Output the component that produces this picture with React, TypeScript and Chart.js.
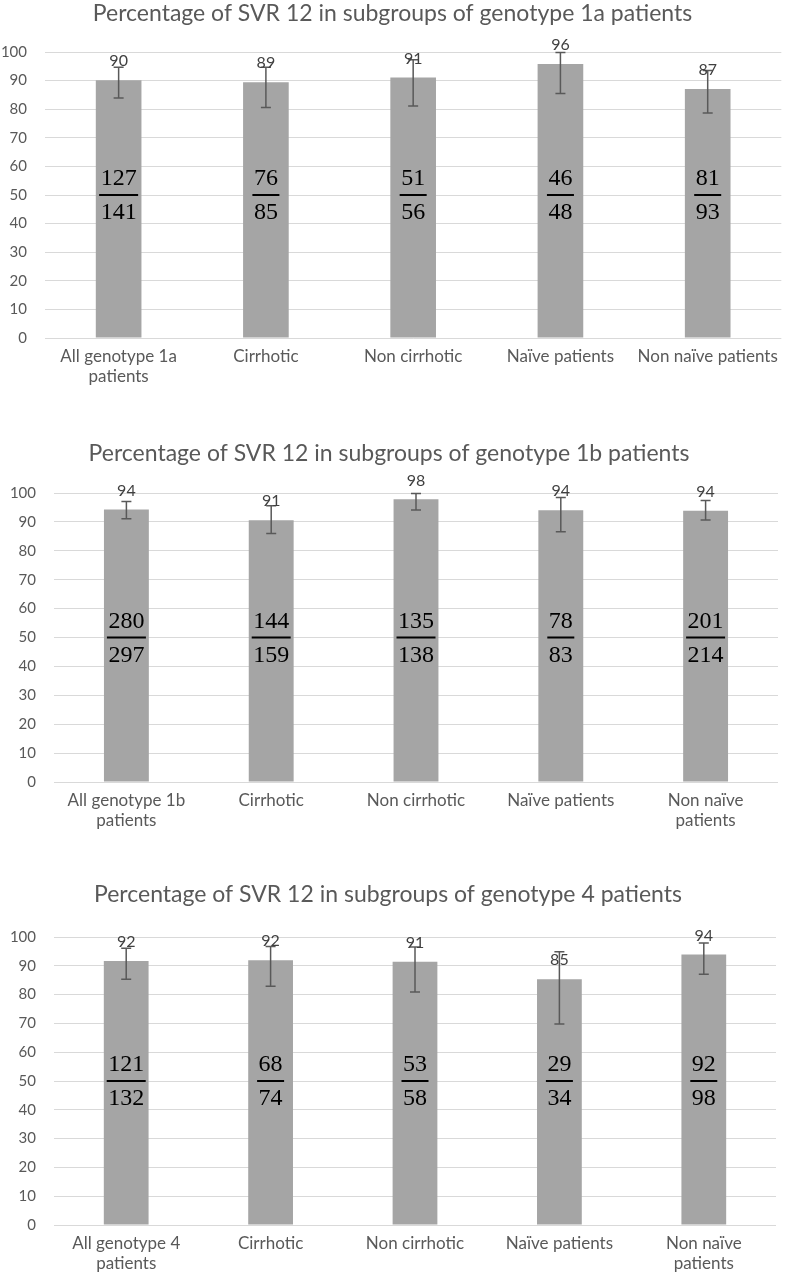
import React, { useEffect, useRef } from "react";
import { Chart, registerables } from "chart.js";

Chart.register(...registerables);

// ---------- DATA ----------
const categories1a: (string | string[])[] = [["All genotype 1a", "patients"], "Cirrhotic", "Non cirrhotic", "Naïve patients", "Non naïve patients"];
const svr1a = [90.1, 89.4, 91.1, 95.8, 87.1];
const lower1a = [83.9, 80.6, 81.1, 85.5, 78.7];
const upper1a = [94.7, 94.7, 97.3, 99.8, 93.5];
const num1a = [127, 76, 51, 46, 81];
const den1a = [141, 85, 56, 48, 93];

const categories1b: (string | string[])[] = [["All genotype 1b", "patients"], "Cirrhotic", "Non cirrhotic", "Naïve patients", ["Non naïve", "patients"]];
const svr1b = [94.3, 90.6, 97.8, 94.0, 93.9];
const lower1b = [91.1, 86.0, 94.1, 86.6, 90.7];
const upper1b = [97.1, 95.6, 99.8, 98.4, 97.4];
const num1b = [280, 144, 135, 78, 201];
const den1b = [297, 159, 138, 83, 214];

const categories4: (string | string[])[] = [["All genotype 4", "patients"], "Cirrhotic", "Non cirrhotic", "Naïve patients", ["Non naïve", "patients"]];
const svr4 = [91.7, 91.9, 91.4, 85.3, 93.9];
const lower4 = [85.3, 82.9, 80.9, 69.8, 87.1];
const upper4 = [96.1, 96.7, 96.5, 94.9, 97.9];
const num4 = [121, 68, 53, 29, 92];
const den4 = [132, 74, 58, 34, 98];

const yTicksMin = 0;
const yTicksMax = 100;
const yTicksStep = 10;
const fractionAt = 50;

// ---------- STYLE ----------
const SANS = "Lato, 'Open Sans', sans-serif";
const SERIF = "'Liberation Serif', 'DejaVu Serif', serif";
const TEXT = "#595959";
const BAR = "#a5a5a5";
const GRID = "#d9d9d9";

type Props = {
  title: string;
  categories: (string | string[])[];
  values: number[];
  lower: number[];
  upper: number[];
  num: number[];
  den: number[];
  height: number;
  yWidth: number;
  padRight: number;
  titleTop: number;
  titleBottom: number;
  padBottom: number;
};

function SvrChart(p: Props) {
  const ref = useRef<HTMLCanvasElement>(null);
  useEffect(() => {
    let chart: Chart | null = null;
    let cancelled = false;
    const make = () => {
      if (cancelled || !ref.current) return;
      const extras = {
        id: "extras",
        afterDatasetsDraw(c: any) {
          const ctx = c.ctx as CanvasRenderingContext2D;
          const meta = c.getDatasetMeta(0);
          const y = c.scales.y;
          ctx.save();
          meta.data.forEach((bar: any, i: number) => {
            const x = bar.x;
            const yl = y.getPixelForValue(p.lower[i]);
            const yh = y.getPixelForValue(p.upper[i]);
            ctx.strokeStyle = "#595959";
            ctx.lineWidth = 1.5;
            ctx.beginPath();
            ctx.moveTo(x, yl);
            ctx.lineTo(x, yh);
            ctx.moveTo(x - 5, yl);
            ctx.lineTo(x + 5, yl);
            ctx.moveTo(x - 5, yh);
            ctx.lineTo(x + 5, yh);
            ctx.stroke();

            const ly = y.getPixelForValue(fractionAt);
            ctx.font = `24px ${SERIF}`;
            ctx.fillStyle = "#000";
            ctx.textAlign = "center";
            ctx.textBaseline = "middle";
            const n = String(p.num[i]);
            const d = String(p.den[i]);
            const w = Math.max(ctx.measureText(n).width, ctx.measureText(d).width) + 3;
            ctx.fillText(n, x, ly - 16);
            ctx.fillText(d, x, ly + 18);
            ctx.fillRect(x - w / 2, ly - 1, w, 2);

            ctx.font = `16px ${SANS}`;
            ctx.fillStyle = "#404040";
            ctx.fillText(String(Math.round(p.values[i])), x, bar.y - 19);
          });
          ctx.restore();
        },
      };
      chart = new Chart(ref.current, {
        type: "bar",
        data: {
          labels: p.categories as any,
          datasets: [
            {
              data: p.values,
              backgroundColor: BAR,
              borderWidth: 0,
              barPercentage: 0.31,
              categoryPercentage: 1,
            },
          ],
        },
        options: {
          animation: false,
          responsive: false,
          maintainAspectRatio: false,
          layout: { padding: { left: 0, right: p.padRight, top: 0, bottom: p.padBottom } },
          plugins: {
            legend: { display: false },
            tooltip: { enabled: false },
            title: {
              display: true,
              text: p.title,
              color: TEXT,
              font: { family: SANS, size: 23, weight: "normal" },
              padding: { top: p.titleTop, bottom: p.titleBottom },
            },
          },
          scales: {
            x: {
              grid: { display: false, drawTicks: false },
              border: { display: false },
              ticks: {
                color: TEXT,
                font: { family: SANS, size: 17, lineHeight: 1.15 },
                padding: 9,
                maxRotation: 0,
                autoSkip: false,
              },
              afterFit: (s: any) => {
                s.height = 50;
              },
            },
            y: {
              min: yTicksMin,
              max: yTicksMax,
              grid: { color: GRID, lineWidth: 1, drawTicks: false },
              border: { display: false },
              ticks: {
                stepSize: yTicksStep,
                color: TEXT,
                font: { family: SANS, size: 15 },
                padding: 18,
              },
              afterFit: (s: any) => {
                s.width = p.yWidth;
              },
            },
          },
        },
        plugins: [extras],
      });
    };
    const fonts = (document as any).fonts;
    if (fonts && fonts.load) {
      Promise.all([fonts.load(`15px Lato`), fonts.load(`24px "Liberation Serif"`)])
        .catch(() => {})
        .then(make);
    } else make();
    return () => {
      cancelled = true;
      if (chart) chart.destroy();
    };
  }, []);
  return <canvas ref={ref} width={787} height={p.height} style={{ display: "block", width: 787, height: p.height }} />;
}

export default function App() {
  return (
    <div style={{ position: "absolute", left: 0, top: 0, width: 787, height: 1283, background: "#fff" }}>
      <SvrChart
        title="Percentage of SVR 12 in subgroups of genotype 1a patients"
        categories={categories1a}
        values={svr1a}
        lower={lower1a}
        upper={upper1a}
        num={num1a}
        den={den1a}
        height={440}
        yWidth={45}
        padRight={2}
        titleTop={0.2}
        titleBottom={24.2}
        padBottom={52}
      />
      <SvrChart
        title="Percentage of SVR 12 in subgroups of genotype 1b patients"
        categories={categories1b}
        values={svr1b}
        lower={lower1b}
        upper={upper1b}
        num={num1b}
        den={den1b}
        height={430}
        yWidth={54}
        padRight={9}
        titleTop={0}
        titleBottom={25.4}
        padBottom={38}
      />
      <SvrChart
        title="Percentage of SVR 12 in subgroups of genotype 4 patients"
        categories={categories4}
        values={svr4}
        lower={lower4}
        upper={upper4}
        num={num4}
        den={den4}
        height={413}
        yWidth={54}
        padRight={11}
        titleTop={11.2}
        titleBottom={28.2}
        padBottom={8}
      />
    </div>
  );
}
